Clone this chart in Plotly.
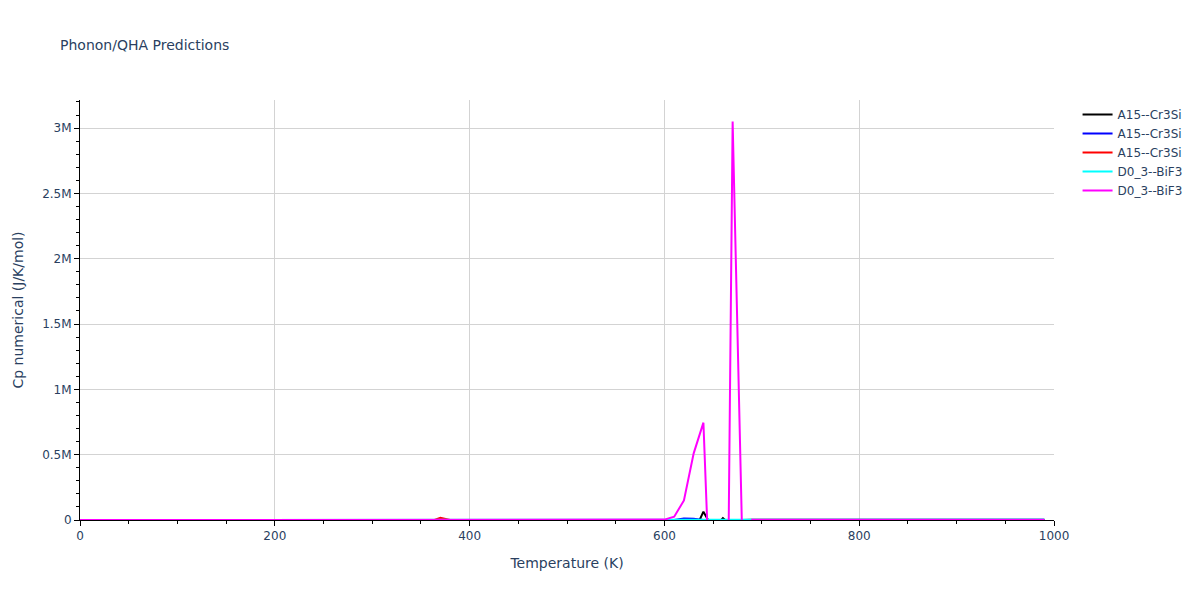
import plotly.graph_objects as go

# Temperature grid (K)
temperature = list(range(0, 1000, 10))  # 0 .. 990

# Series values (J/K/mol)
black_a15 = ([0.0] * 63 +
             [-100000.0, 64000.0, -70000.0, 15000.0, -50000.0, 0.0] +
             [1500.0] * 31)
blue_a15 = ([0.0] * 62 +
            [12000.0, 10000.0, 0.0] +
            [0.0] * 35)
red_a15 = ([0.0] * 36 +
           [-10000.0, 16000.0, 0.0] +
           [0.0] * 61)
cyan_d03 = ([0.0] * 65 +
            [2000.0, 2500.0, 3000.0] +
            [3500.0] * 32)
magenta_d03 = ([0.0] * 60 +
               [3000.0, 25000.0, 150000.0, 510000.0, 745000.0,
                -1215000.0, -4575000.0, 3050000.0, -200000.0, 1500.0] +
               [1500.0] * 30)

names = ["A15--Cr3Si", "A15--Cr3Si", "A15--Cr3Si", "D0_3--BiF3", "D0_3--BiF3"]
colors = ["black", "blue", "red", "cyan", "magenta"]
series = [black_a15, blue_a15, red_a15, cyan_d03, magenta_d03]

fig = go.Figure()
for name, color, ys in zip(names, colors, series):
    fig.add_trace(go.Scatter(x=temperature, y=ys, mode="lines", name=name,
                             line=dict(color=color, width=2)))

axis_common = dict(
    showline=True, linecolor="black", linewidth=1,
    ticks="outside", tickcolor="black",
    gridcolor="lightgray", zeroline=False,
    minor=dict(ticks="outside", tickcolor="black", showgrid=False),
)

fig.update_layout(
    width=1200, height=600,
    font=dict(family="Verdana, DejaVu Sans, sans-serif"),
    title=dict(text="Phonon/QHA Predictions", font=dict(size=14)),
    plot_bgcolor="white", paper_bgcolor="white",
    xaxis=dict(title=dict(text="Temperature (K)"), range=[0, 1000],
               dtick=200, domain=[0, 0.996], **axis_common),
    yaxis=dict(title=dict(text="Cp numerical (J/K/mol)"), range=[0, 3.215e6],
               dtick=500000, **axis_common),
    showlegend=True,
)
fig.update_xaxes(minor=dict(dtick=50))
fig.update_yaxes(minor=dict(dtick=100000))

fig.write_html("out.html", config={"displayModeBar": False},
               post_script="document.body.style.margin='0';")
